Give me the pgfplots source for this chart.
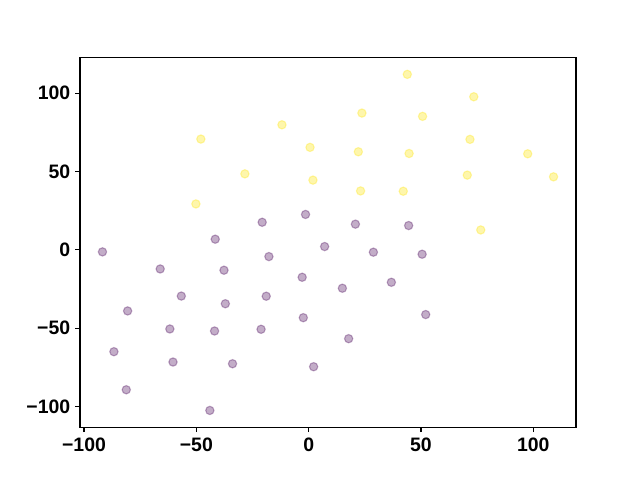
\documentclass[border=0pt]{standalone}
\usepackage{pgfplots}
\pgfplotsset{compat=1.18}
\usepackage{fontspec}
\setmainfont{Liberation Sans}
\definecolor{vpurple}{HTML}{440154}
\definecolor{vyellow}{HTML}{FDE725}
\begin{document}
\begin{tikzpicture}
\useasboundingbox (0,0) rectangle (460.8pt,345.6pt);
\begin{axis}[
  at={(57.6pt,38.016pt)}, anchor=south west,
  scale only axis, width=357.12pt, height=266.11pt,
  xmin=-101.8, xmax=119.0, ymin=-113.2, ymax=122.7,
  axis line style={line width=0.8pt},
  tick style={line width=0.8pt, black},
  tick align=outside, major tick length=3.5pt,
  xtick pos=bottom, ytick pos=left,
  xtick={-100,-50,0,50,100}, ytick={-100,-50,0,50,100},
  xticklabels={−100,−50,0,50,100},
  yticklabels={−100,−50,0,50,100},
  ticklabel style={font=\fontsize{14}{16}\selectfont\bfseries},
  xticklabel style={yshift=-0.5pt},
  every axis plot/.append style={only marks, mark=*, mark size=3pt},
]
\addplot[mark options={fill=vyellow, draw=vyellow, fill opacity=0.38, draw opacity=0.38, line width=0.8pt}] coordinates {
(43.9,112.0) (73.5,97.7) (23.7,87.3) (50.7,85.2) (-11.9,79.8)
(-48.0,70.7) (71.8,70.5) (0.6,65.4) (22.1,62.6) (44.7,61.5)
(97.5,61.3) (-28.4,48.5) (70.6,47.7) (109.0,46.6) (1.9,44.5)
(23.1,37.6) (42.1,37.4) (-50.2,29.3) (76.6,12.7)
};
\addplot[mark options={fill=vpurple, draw=vpurple, fill opacity=0.32, draw opacity=0.32, line width=0.8pt}] coordinates {
(-1.4,22.6) (-20.7,17.6) (20.8,16.4) (44.5,15.5) (-41.6,6.8)
(7.1,2.1) (-91.8,-1.3) (28.8,-1.5) (50.5,-2.8) (-17.7,-4.3)
(-66.1,-12.2) (-37.7,-13.0) (-2.9,-17.5) (36.8,-20.7) (15.0,-24.5)
(-56.7,-29.5) (-18.9,-29.6) (-37.1,-34.4) (-80.6,-39.0) (52.1,-41.3)
(-2.4,-43.3) (-61.8,-50.5) (-41.9,-51.8) (-21.2,-50.7) (17.8,-56.7)
(-86.7,-65.0) (-60.4,-71.6) (-33.9,-72.7) (2.2,-74.6) (-81.2,-89.3)
(-44.0,-102.5)
};
\end{axis}
\end{tikzpicture}
\end{document}
